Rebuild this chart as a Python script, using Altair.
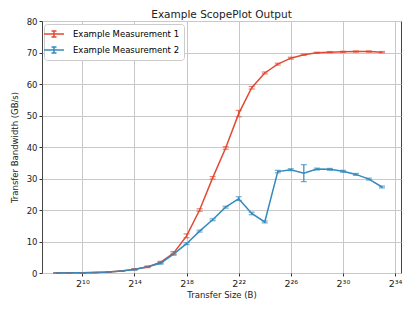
import altair as alt
import pandas as pd

exponents = list(range(8, 34))
series_names = ["Example Measurement 1", "Example Measurement 2"]
bw1 = [0.02, 0.04, 0.08, 0.15, 0.3, 0.6, 1.2, 1.9, 3.4, 6.3, 11.8, 20.0, 30.2, 39.7,
       50.6, 58.8, 63.5, 66.3, 68.2, 69.3, 69.9, 70.1, 70.2, 70.3, 70.3, 70.1]
err1 = [0.01, 0.01, 0.01, 0.02, 0.05, 0.1, 0.2, 0.2, 0.3, 0.5, 0.6, 0.4, 0.4, 0.4,
        1.0, 0.4, 0.3, 0.3, 0.3, 0.2, 0.2, 0.2, 0.2, 0.2, 0.2, 0.2]
bw2 = [0.02, 0.04, 0.08, 0.15, 0.3, 0.6, 1.1, 2.0, 3.1, 6.0, 9.3, 13.3, 16.9, 20.9,
       23.6, 18.9, 16.2, 32.2, 32.8, 31.7, 33.0, 32.9, 32.3, 31.3, 29.8, 27.3]
err2 = [0.01, 0.01, 0.01, 0.02, 0.05, 0.1, 0.2, 0.2, 0.3, 0.3, 0.3, 0.3, 0.3, 0.3,
        0.6, 0.4, 0.3, 0.4, 0.3, 2.7, 0.3, 0.3, 0.3, 0.3, 0.3, 0.3]
colors = ["#E24A33", "#348ABD"]
xticks = [10, 14, 18, 22, 26, 30, 34]
yticks = [0, 10, 20, 30, 40, 50, 60, 70, 80]

rows = []
for name, bws, errs in [(series_names[0], bw1, err1), (series_names[1], bw2, err2)]:
    for e, b, er in zip(exponents, bws, errs):
        rows.append({"series": name, "size": 2.0 ** e, "bw": b, "lo": b - er, "hi": b + er})
df = pd.DataFrame(rows)

sup = {"10": "¹⁰", "14": "¹⁴", "18": "¹⁸", "22": "²²", "26": "²⁶", "30": "³⁰", "34": "³⁴"}
label_expr = "'2' + (" + " : ".join(
    [f"(round(log(datum.value)/log(2)) == {k}) ? '{v}'" for k, v in sup.items()]) + " : '')"

xscale = alt.Scale(type="log", base=2, domain=[2 ** 6.9, 2 ** 34.46], nice=False)
yscale = alt.Scale(domain=[0, 80], nice=False)
cscale = alt.Scale(domain=series_names, range=colors)

xaxis = alt.Axis(values=[2 ** t for t in xticks], labelExpr=label_expr,
                 grid=True, labelFontSize=9.5, titleFontSize=8.5, titlePadding=3,
                 labelOverlap=False)
yaxis = alt.Axis(values=yticks, tickCount=9, grid=True, labelFontSize=8.5,
                 titleFontSize=8.5, titlePadding=7, labelOverlap=False)
xtitle = "Transfer Size (B)"
ytitle = "Transfer Bandwidth (GB/s)"

def X():
    return alt.X("size:Q", scale=xscale, title=xtitle, axis=xaxis)

def Y(field):
    return alt.Y(field, scale=yscale, title=ytitle, axis=yaxis)

path = "M-2,0L2,0M0,-0.6L0,0.6M-0.5,-0.6L0.5,-0.6M-0.5,0.6L0.5,0.6"

lines = alt.Chart(df).mark_line(strokeWidth=1.5).encode(
    x=X(), y=Y("bw:Q"),
    color=alt.Color("series:N", scale=cscale,
                    legend=alt.Legend(title=None, orient="none", legendX=2, legendY=3,
                                      symbolType=path, symbolSize=100, symbolStrokeWidth=1.5,
                                      symbolFillColor="transparent", labelFontSize=8.5,
                                      rowPadding=4, padding=4, strokeColor="#cccccc",
                                      fillColor="white", cornerRadius=3, labelOffset=13,
                                      labelLimit=200)),
)
rules = alt.Chart(df).mark_rule(strokeWidth=1.2).encode(
    x=X(), y=Y("lo:Q"), y2="hi:Q",
    color=alt.Color("series:N", scale=cscale, legend=None),
)
caps_lo = alt.Chart(df).mark_tick(orient="horizontal", size=6, thickness=1.2).encode(
    x=X(), y=Y("lo:Q"),
    color=alt.Color("series:N", scale=cscale, legend=None),
)
caps_hi = alt.Chart(df).mark_tick(orient="horizontal", size=6, thickness=1.2).encode(
    x=X(), y=Y("hi:Q"),
    color=alt.Color("series:N", scale=cscale, legend=None),
)

chart = alt.layer(lines, rules, caps_lo, caps_hi).properties(
    width=359, height=252,
    title=alt.Title("Example ScopePlot Output", fontSize=10.5, fontWeight="normal", offset=-3),
    autosize=alt.AutoSizeParams(type="none"),
    padding={"left": 34, "top": 13, "right": 6, "bottom": 30},
).configure(font="DejaVu Sans").configure_axis(
    gridColor="#c8c8c8", gridWidth=1, domain=False, tickColor="#333", tickSize=3,
    labelColor="#222", titleColor="#222", labelFont="DejaVu Sans", titleFont="DejaVu Sans",
    titleFontWeight="normal",
).configure_view(stroke="#444", strokeWidth=1).configure_title(font="DejaVu Sans", color="#222")

chart.save("out.html", embed_options={"renderer": "svg", "actions": False})
